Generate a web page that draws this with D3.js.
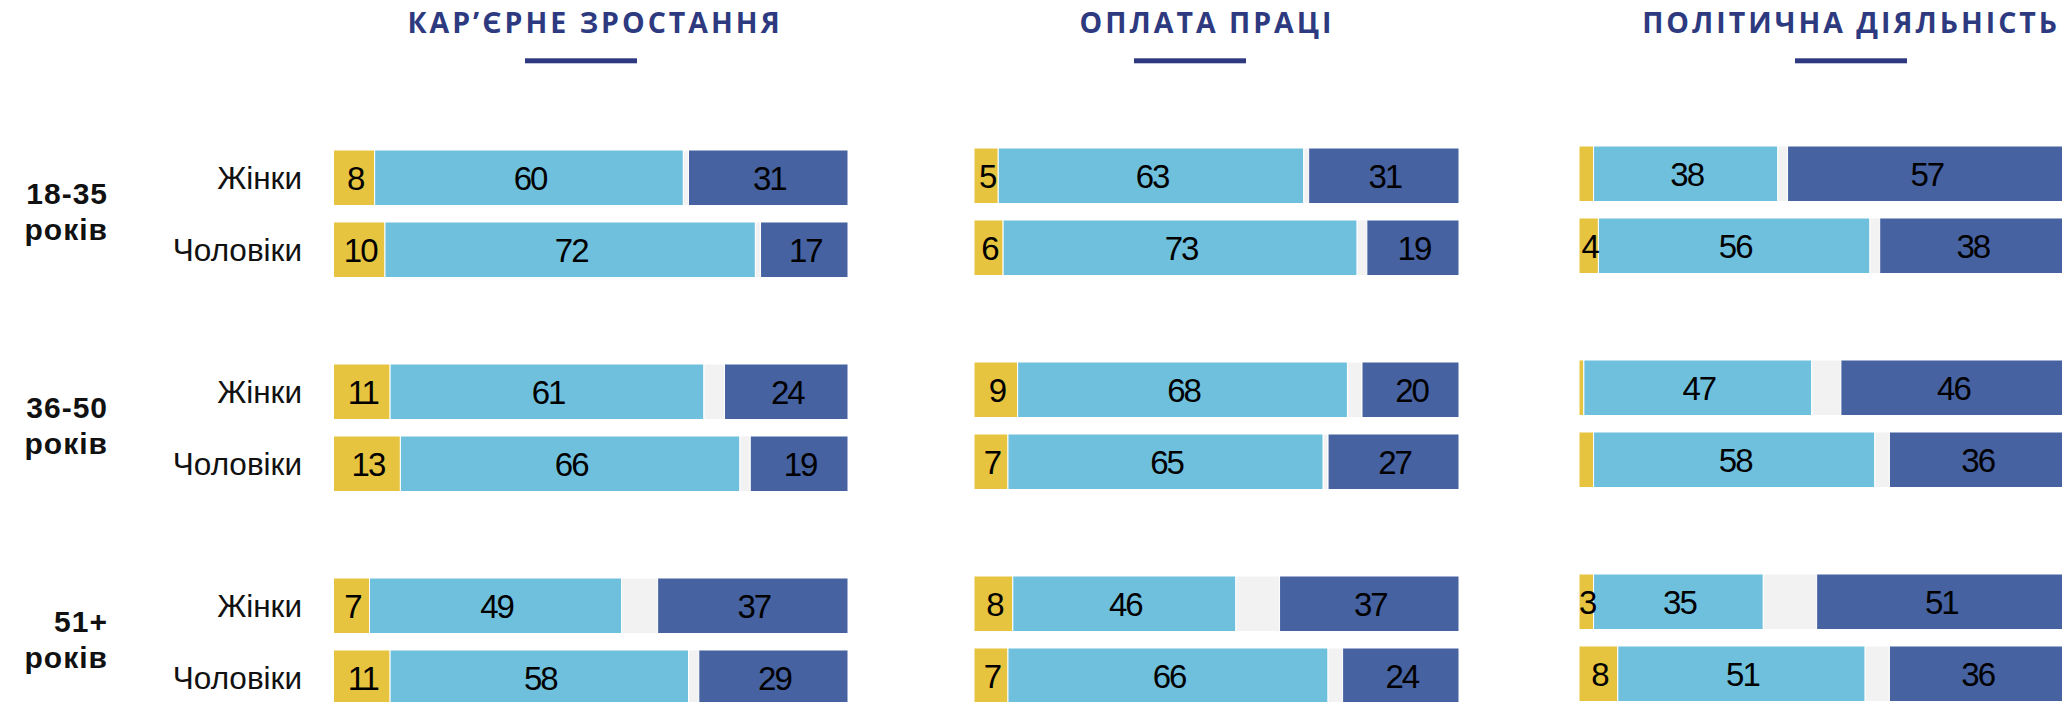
<!DOCTYPE html>
<html>
<head>
<meta charset="utf-8">
<script src="https://cdn.jsdelivr.net/npm/d3@7"></script>
<style>
  body { margin: 0; background: #ffffff; }
  svg { display: block; }
</style>
</head>
<body>
<div id="chart"></div>
<script>
// age groups and sexes (rows)
var ageGroups = ["18-35", "36-50", "51+"];
var sexes = ["Жінки", "Чоловіки"];
var ageWord = "років";

// panel titles
var titles = ["КАР’ЄРНЕ ЗРОСТАННЯ", "ОПЛАТА ПРАЦІ", "ПОЛІТИЧНА ДІЯЛЬНІСТЬ"];

// row order: 18-35 Ж, 18-35 Ч, 36-50 Ж, 36-50 Ч, 51+ Ж, 51+ Ч
// career growth
var careerYellow = [8, 10, 11, 13, 7, 11];
var careerLight  = [60, 72, 61, 66, 49, 58];
var careerGray   = [1, 1, 4, 2, 7, 2];
var careerDark   = [31, 17, 24, 19, 37, 29];

// pay
var payYellow = [5, 6, 9, 7, 8, 7];
var payLight  = [63, 73, 68, 65, 46, 66];
var payGray   = [1, 2, 3, 1, 9, 3];
var payDark   = [31, 19, 20, 27, 37, 24];

// political activity
var politYellow = [3, 4, 1, 3, 3, 8];
var politLight  = [38, 56, 47, 58, 35, 51];
var politGray   = [2, 2, 6, 3, 11, 5];
var politDark   = [57, 38, 46, 36, 51, 36];
// small yellow values that carry no label in the picture
var politYellowShown = [false, true, false, false, true, true];

var colors = ["#e6c43f", "#6fc0dd", "#f2f2f2", "#4662a0"];
var navy = "#2e3a80";

var width = 2062, height = 702;

var svg = d3.select("#chart").append("svg")
  .attr("width", width)
  .attr("height", height);

// layout of each panel
var panels = [
  { title: titles[0], series: [careerYellow, careerLight, careerGray, careerDark], shown: null,
    x0: 333.5, w: 514.5, titleX: 595, anchor: "middle", lineX: 581, dy: 0 },
  { title: titles[1], series: [payYellow, payLight, payGray, payDark], shown: null,
    x0: 974, w: 485, titleX: 1207, anchor: "middle", lineX: 1190, dy: -2 },
  { title: titles[2], series: [politYellow, politLight, politGray, politDark], shown: politYellowShown,
    x0: 1579, w: 485, titleX: 2060, anchor: "end", lineX: 1851, dy: -4 }
];

// vertical scales: group bands and sex bands inside each group
var groupY = d3.scaleBand()
  .domain(ageGroups)
  .range([150, 150 + 3 * 214]);

var sexY = d3.scaleBand()
  .domain(sexes)
  .range([0, 127.5])
  .paddingInner(0.229)
  .paddingOuter(0);

// age labels on the left
ageGroups.forEach(function(g){
  var top = groupY(g);
  var t = svg.append("text")
    .attr("text-anchor", "end")
    .style("font-family", "'Liberation Sans', Arial, sans-serif")
    .style("font-weight", "bold")
    .style("font-size", "30px")
    .style("letter-spacing", "1px")
    .attr("fill", "#111");
  t.append("tspan").attr("x", 108).attr("y", top + 53.5).text(g);
  t.append("tspan").attr("x", 108).attr("y", top + 90).text(ageWord);

  // sex labels
  sexes.forEach(function(s){
    svg.append("text")
      .attr("x", 302)
      .attr("y", top + sexY(s) + sexY.bandwidth() / 2)
      .attr("dy", "0.35em")
      .attr("text-anchor", "end")
      .style("font-family", "'Liberation Sans', Arial, sans-serif")
      .style("font-size", "31.5px")
      .attr("fill", "#111")
      .text(s);
  });
});

panels.forEach(function(p){
  var x = d3.scaleLinear().domain([0, 100]).range([p.x0, p.x0 + p.w]);

  // title and underline
  svg.append("text")
    .attr("x", p.titleX)
    .attr("y", 33.3)
    .attr("text-anchor", p.anchor)
    .style("font-family", "'Open Sans', sans-serif")
    .style("font-weight", "700")
    .style("font-size", "28.5px")
    .style("letter-spacing", "3px")
    .attr("fill", navy)
    .text(p.title);

  svg.append("rect")
    .attr("x", p.lineX - 56)
    .attr("y", 58.3)
    .attr("width", 112)
    .attr("height", 5)
    .attr("fill", navy);

  var g = svg.append("g").attr("transform", "translate(0," + p.dy + ")");

  // one row per age group x sex
  var rows = [];
  ageGroups.forEach(function(ag){
    sexes.forEach(function(s){ rows.push({ age: ag, sex: s }); });
  });

  rows.forEach(function(r, i){
    var y = groupY(r.age) + sexY(r.sex);
    var start = 0;
    var segs = p.series.map(function(arr, k){
      var seg = { k: k, v: arr[i], x0: start };
      start += arr[i];
      return seg;
    });

    g.selectAll(null)
      .data(segs)
      .enter().append("rect")
      .attr("x", function(d){ return x(d.x0); })
      .attr("y", y)
      .attr("width", function(d){ return x(d.x0 + d.v) - x(d.x0); })
      .attr("height", sexY.bandwidth())
      .attr("fill", function(d){ return colors[d.k]; })
      .attr("stroke", "#fff")
      .attr("stroke-width", 1);

    g.selectAll(null)
      .data(segs.filter(function(d){
        if (d.k === 2) return false;
        if (d.k === 0 && p.shown && !p.shown[i]) return false;
        return true;
      }))
      .enter().append("text")
      .attr("x", function(d){ return (x(d.x0) + x(d.x0 + d.v)) / 2 + 1; })
      .attr("y", y + sexY.bandwidth() / 2)
      .attr("dy", "0.36em")
      .attr("text-anchor", "middle")
      .style("font-family", "'Liberation Sans', Arial, sans-serif")
      .style("font-size", "33px")
      .style("letter-spacing", "-2px")
      .attr("fill", "#000")
      .text(function(d){ return d.v; });
  });
});
</script>
</body>
</html>
